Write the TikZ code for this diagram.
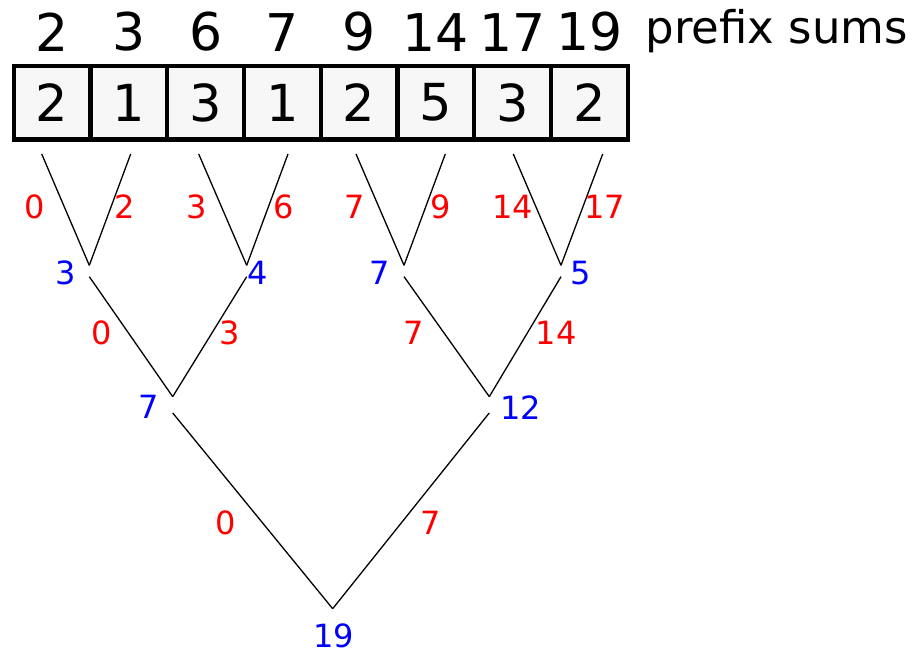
\documentclass[tikz,border=0pt]{standalone}
\usepackage{fontspec}
\setmainfont{DejaVu Sans}
\usepackage{xcolor}
\usetikzlibrary{positioning}

\begin{document}
\begin{tikzpicture}[x=1pt,y=1pt,line width=1.3pt]
\tikzstyle{cell}=[draw,line width=4.3pt,fill=black!3,outer sep=0pt,inner sep=0pt,minimum width=76.75pt,minimum height=73.5pt,font=\fontsize{51}{60}\selectfont]
\tikzstyle{psum}=[inner sep=0pt,font=\fontsize{52}{60}\selectfont]
\tikzstyle{edgesum}=[inner sep=0pt,text=red,font=\fontsize{32}{36}\selectfont]
\tikzstyle{nodesum}=[inner sep=0pt,text=blue,font=\fontsize{32}{36}\selectfont]
\tikzstyle{joint}=[inner sep=0pt,minimum width=0pt,minimum height=10pt]
\useasboundingbox (0,0) rectangle (913,650);

% input array
\node[cell] (c1) at (52.2,547.25) {2};
\node[cell,right=0pt of c1] (c2) {1};
\node[cell,right=0pt of c2] (c3) {3};
\node[cell,right=0pt of c3] (c4) {1};
\node[cell,right=0pt of c4] (c5) {2};
\node[cell,right=0pt of c5] (c6) {5};
\node[cell,right=0pt of c6] (c7) {3};
\node[cell,right=0pt of c7] (c8) {2};

% prefix sums on top
\node[psum,above=13.7pt of c1] (s1) {2};
\node[psum,above=13.7pt of c2] (s2) {3};
\node[psum,above=13.7pt of c3] (s3) {6};
\node[psum,above=13.7pt of c4] (s4) {7};
\node[psum,above=13.7pt of c5] (s5) {9};
\node[psum,above=13.7pt of c6] (s6) {14};
\node[psum,above=13.7pt of c7] (s7) {17};
\node[psum,above=13.7pt of c8] (s8) {19};
\node[inner sep=0pt,anchor=base west,font=\fontsize{45}{50}\selectfont] (title) at (645,606) {prefix sums};

% leaves of the tree
\coordinate (t1) at (41.7,496);
\coordinate (t2) at (130.7,496);
\coordinate (t3) at (198.7,496);
\coordinate (t4) at (288,496);
\coordinate (t5) at (356,496);
\coordinate (t6) at (445.3,496);
\coordinate (t7) at (513.3,496);
\coordinate (t8) at (602.7,496);

% inner nodes
\node[joint] (a1) at (89.3,379) {};
\node[joint] (a2) at (246.7,379) {};
\node[joint] (a3) at (404,379) {};
\node[joint] (a4) at (561,379) {};
\node[joint,minimum height=15pt] (b1) at (172.7,245.2) {};
\node[joint,minimum height=15pt] (b2) at (489.3,245.2) {};
\node[joint,minimum height=0pt] (root) at (332.7,41.3) {};

\draw (t1)--(a1.north);
\draw (t2)--(a1.north);
\draw (t3)--(a2.north);
\draw (t4)--(a2.north);
\draw (t5)--(a3.north);
\draw (t6)--(a3.north);
\draw (t7)--(a4.north);
\draw (t8)--(a4.north);
\draw (a1.south)--(b1.north);
\draw (a2.south)--(b1.north);
\draw (a3.south)--(b2.north);
\draw (a4.south)--(b2.north);
\draw (b1.south)--(root.center);
\draw (b2.south)--(root.center);

% subtree sums
\node[nodesum] (n1) at (65.3,376.8) {3};
\node[nodesum] (n2) at (258,376.8) {4};
\node[nodesum] (n3) at (380,376.8) {7};
\node[nodesum] (n4) at (580.7,376.8) {5};
\node[nodesum] (n5) at (148.3,242.7) {7};
\node[nodesum] (n6) at (520.5,242.7) {12};
\node[nodesum] (n7) at (333.8,14.5) {19};

% offsets passed down
\node[edgesum] (e1) at (34.7,443.3) {0};
\node[edgesum] (e2) at (124.3,443.3) {2};
\node[edgesum] (e3) at (196.7,443.3) {3};
\node[edgesum] (e4) at (283.3,443.3) {6};
\node[edgesum] (e5) at (355,443.3) {7};
\node[edgesum] (e6) at (440.5,443.3) {9};
\node[edgesum] (e7) at (512.7,443.3) {14};
\node[edgesum] (e8) at (604.7,443.3) {17};
\node[edgesum] (f1) at (101.3,316.7) {0};
\node[edgesum] (f2) at (229.3,316.7) {3};
\node[edgesum] (f3) at (413.8,316.7) {7};
\node[edgesum] (f4) at (556.3,316.7) {14};
\node[edgesum] (g1) at (225.8,126.7) {0};
\node[edgesum] (g2) at (431,126.7) {7};
\end{tikzpicture}
\end{document}
